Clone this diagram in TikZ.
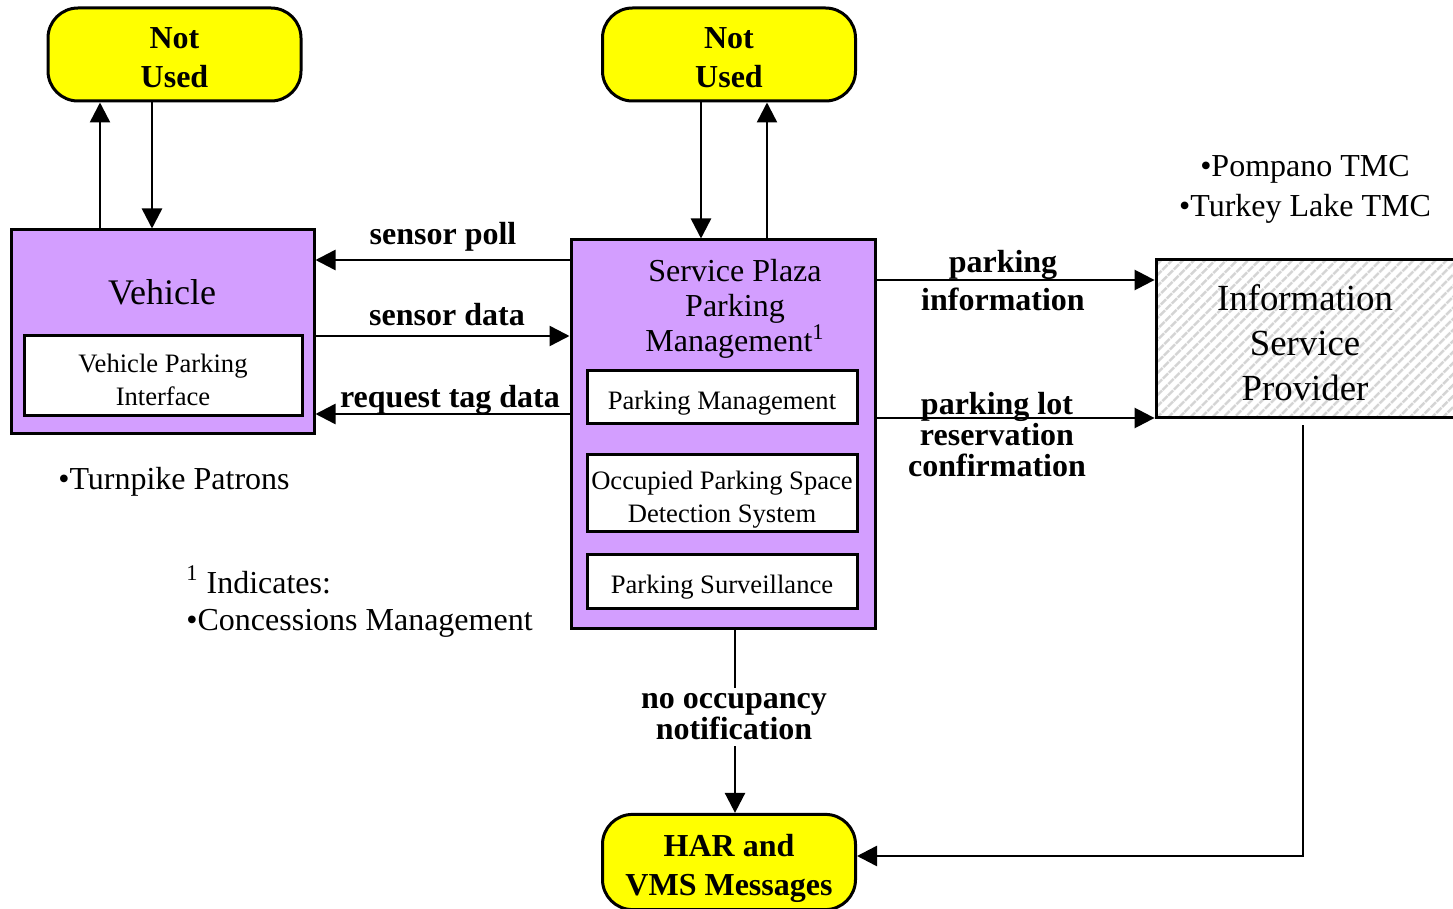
\documentclass[tikz,border=0pt]{standalone}
\usepackage{fontspec}
\setmainfont{Liberation Serif}
\usetikzlibrary{arrows.meta,patterns.meta}

\definecolor{plazaviolet}{RGB}{211,158,255}
\definecolor{termyellow}{RGB}{255,255,0}

\tikzset{
  sysbox/.style={draw, line width=1.5pt, fill=plazaviolet, inner sep=0pt},
  subbox/.style={draw, line width=1.5pt, fill=white, inner sep=0pt, align=center,
    minimum width=135pt, text height=14.5pt, font=\fontsize{13.3}{16.5}\selectfont},
  termbox/.style={draw, line width=1.5pt, fill=termyellow, rounded corners=15pt,
    align=center, minimum width=126.5pt, minimum height=46.5pt, text height=33pt,
    font=\bfseries\fontsize{16}{19.5}\selectfont},
  flow/.style={line width=1.25pt, -{Triangle[length=10pt,width=10pt]}},
  flowlbl/.style={inner sep=0pt, align=center, font=\bfseries\fontsize{16}{15.5}\selectfont},
  plaintxt/.style={inner sep=0pt, align=center, font=\fontsize{16}{20}\selectfont},
}

\begin{document}
\begin{tikzpicture}[x=0.5pt, y=-0.5pt]
% page frame
\useasboundingbox (0,0) rectangle (1453,909);

% Terminators
\node[termbox] (notusedA) at (174.5,54.5) {Not\\Used};
\node[termbox] (notusedB) at (729,54.5) {Not\\Used};
\node[termbox, minimum height=46pt, text height=37.4pt] (har) at (729,862) {HAR and\\VMS Messages};

% Vehicle
\node[sysbox, minimum width=151.5pt, minimum height=102pt] (vehicle) at (162.5,332) {};
\node[inner sep=0pt, font=\fontsize{18}{20}\selectfont] (vehicletxt) at (162,292) {Vehicle};
\node[subbox, minimum width=139pt, minimum height=40pt, text height=29.6pt] (vpi) at (163,376) {Vehicle Parking\\Interface};

% Service Plaza Parking Management
\node[sysbox, minimum width=152pt, minimum height=194pt] (sppm) at (723,434) {};
\node[inner sep=0pt, align=center, font=\fontsize{16}{17.5}\selectfont] (sppmtxt) at (735,309)
  {Service Plaza\\Parking\\Management\textsuperscript{1}};
\node[subbox, minimum height=26.5pt] (pm) at (722,397.5) {Parking Management};
\node[subbox, minimum height=38.5pt, text height=32pt] (opsds) at (722,493.5) {Occupied Parking Space\\Detection System};
\node[subbox, minimum height=26.5pt] (ps) at (722,581.5) {Parking Surveillance};

% Information Service Provider
\node[draw, line width=1.5pt, inner sep=0pt, preaction={fill=white},
  pattern={Lines[angle=45,distance=4pt,line width=1.4pt]}, pattern color=black!17,
  minimum width=152pt, minimum height=79pt] (isp) at (1308,339) {};
\node[inner sep=0pt, align=center, font=\fontsize{18.4}{22.5}\selectfont] (isptxt) at (1305,343)
  {Information\\Service\\Provider};

% Notes
\node[plaintxt] (tmc) at (1305,189) {•Pompano TMC\\•Turkey Lake TMC};
\node[plaintxt] (patrons) at (174,482) {•Turnpike Patrons};
\node[plaintxt, anchor=west] (note1) at (186,580) {\textsuperscript{1} Indicates:};
\node[plaintxt, anchor=west] (note2) at (186,623) {•Concessions Management};

% Flows to and from the terminators
\coordinate (vA) at ([xshift=-37.25pt]notusedA.south);
\draw[flow] (vehicle.north -| vA) -- (vA);
\draw[flow] ([xshift=-11.25pt]notusedA.south) -- ([xshift=-11.25pt]notusedA.south |- vehicle.north);
\draw[flow] ([xshift=-14pt]notusedB.south) -- ([xshift=-14pt]notusedB.south |- sppm.north);
\coordinate (vB) at ([xshift=19pt]notusedB.south);
\draw[flow] (sppm.north -| vB) -- (vB);

% Vehicle <-> Service Plaza
\draw[flow] ([yshift=87pt]sppm.west) -- ([yshift=87pt]sppm.west -| vehicle.east);
\draw[flow] ([yshift=-2pt]vehicle.east) -- ([yshift=-2pt]vehicle.east -| sppm.west);
\draw[flow] ([yshift=10pt]sppm.west) -- ([yshift=10pt]sppm.west -| vehicle.east);
\node[flowlbl] (lpoll) at (443,237) {sensor poll};
\node[flowlbl] (ldata) at (447,315) {sensor data};
\node[flowlbl] (ltag) at (450,400) {request tag data};

% Service Plaza -> ISP
\draw[flow] ([yshift=77pt]sppm.east) -- ([yshift=77pt]sppm.east -| isp.west);
\draw[flow] ([yshift=8pt]sppm.east) -- ([yshift=8pt]sppm.east -| isp.west);
\node[flowlbl, font=\bfseries\fontsize{16}{19}\selectfont] (linfo) at (1003,281) {parking\\information};
\node[flowlbl] (lres) at (997,435) {parking lot\\reservation\\confirmation};

% Down to HAR
\draw[flow] ([xshift=6pt]sppm.south) -- ([xshift=6pt]sppm.south |- har.north);
\node[flowlbl, fill=white, inner sep=3pt] (locc) at (734,717) {no occupancy\\notification};
\draw[flow] ([xshift=-2.5pt,yshift=-3pt]isp.south) |- ([yshift=3pt]har.east);
\end{tikzpicture}
\end{document}
